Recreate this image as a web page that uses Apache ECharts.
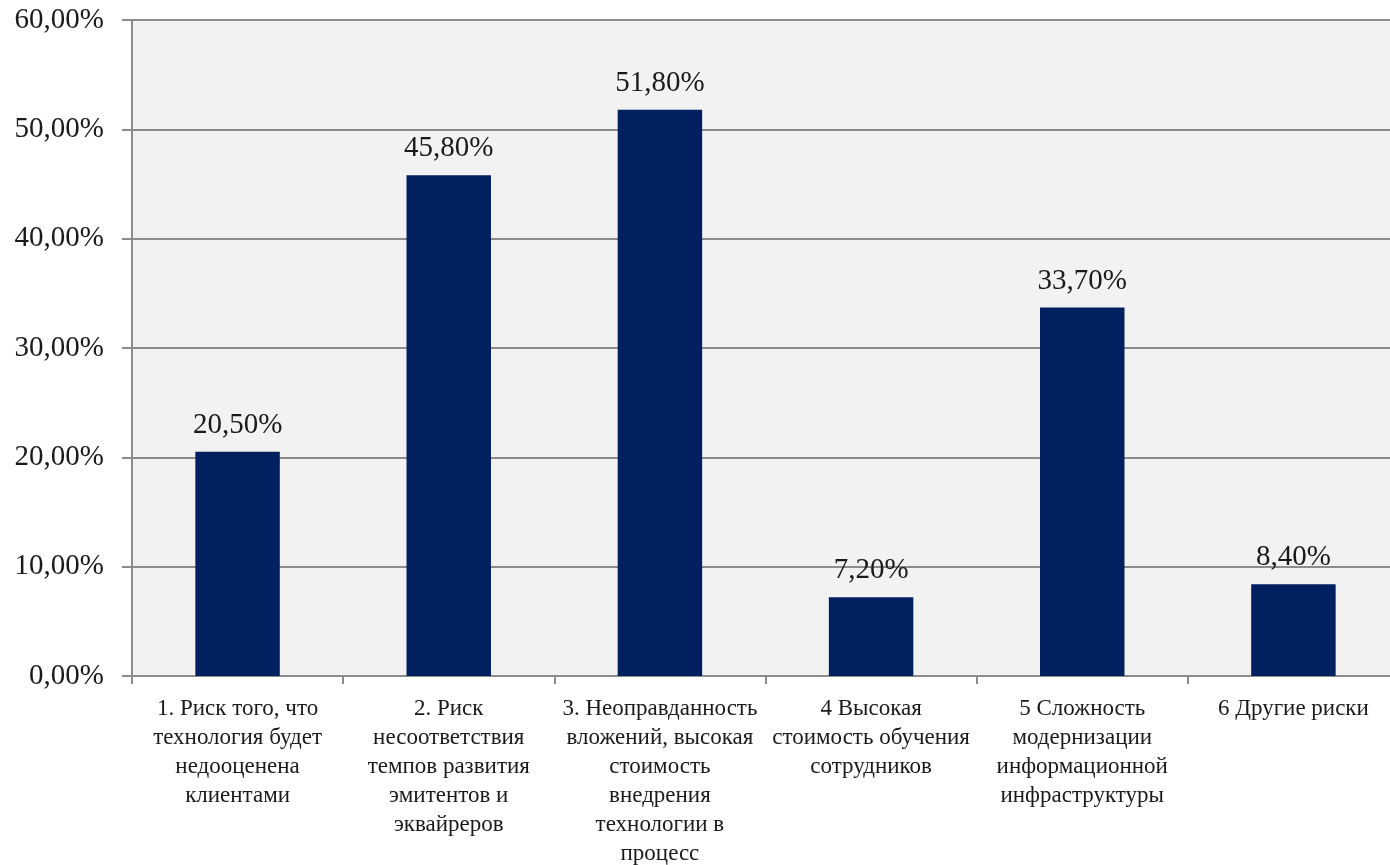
<!DOCTYPE html>
<html>
<head>
<meta charset="utf-8">
<script src="https://cdn.jsdelivr.net/npm/echarts@6/dist/echarts.min.js"></script>
<style>
html,body{margin:0;padding:0;background:#fff;overflow:hidden;}
#c{width:1390px;height:865px;}
</style>
</head>
<body>
<div id="c"></div>
<script>
var categories = [
  "1. Риск того, что\nтехнология будет\nнедооценена\nклиентами",
  "2. Риск\nнесоответствия\nтемпов развития\nэмитентов и\nэквайреров",
  "3. Неоправданность\nвложений, высокая\nстоимость\nвнедрения\nтехнологии в\nпроцесс",
  "4 Высокая\nстоимость обучения\nсотрудников",
  "5 Сложность\nмодернизации\nинформационной\nинфраструктуры",
  "6 Другие риски"
];
var values = [20.5, 45.8, 51.8, 7.2, 33.7, 8.4];
var yTicks = { min: 0, max: 60, interval: 10 };

function pct(v){ return v.toFixed(2).replace('.', ',') + '%'; }

var FONT = '"Liberation Serif", "Times New Roman", serif';
var chart = echarts.init(document.getElementById('c'), null, {renderer:'canvas'});
chart.setOption({
  animation: false,
  backgroundColor: '#ffffff',
  textStyle: { fontFamily: FONT },
  grid: {
    left: 132, top: 20, width: 1267, height: 656,
    outerBoundsMode: 'none', containLabel: false,
    show: true, backgroundColor: '#f2f2f2', borderWidth: 0
  },
  xAxis: {
    type: 'category',
    data: categories,
    axisLine: { show: true, lineStyle: { color: '#8c8c8c', width: 2 } },
    axisTick: { show: true, alignWithLabel: false, length: 8, lineStyle: { color: '#8c8c8c', width: 2 } },
    axisLabel: {
      interval: 0, margin: 18, color: '#1a1a1a',
      fontSize: 23, lineHeight: 29, fontFamily: FONT
    },
    splitLine: { show: false }
  },
  yAxis: {
    type: 'value',
    min: yTicks.min, max: yTicks.max, interval: yTicks.interval,
    axisLine: { show: true, lineStyle: { color: '#8c8c8c', width: 2 } },
    axisTick: { show: true, length: 10, lineStyle: { color: '#8c8c8c', width: 2 } },
    axisLabel: {
      margin: 28, color: '#1a1a1a', fontSize: 29, fontFamily: FONT,
      formatter: function(v){ return pct(v); }
    },
    splitLine: { show: true, lineStyle: { color: '#8c8c8c', width: 2 } }
  },
  series: [{
    type: 'bar',
    data: values,
    barWidth: '40%',
    itemStyle: { color: '#002060' },
    label: {
      show: true, position: 'top', distance: 12,
      color: '#1a1a1a', fontSize: 29, fontFamily: FONT,
      formatter: function(p){ return pct(p.value); }
    }
  }]
});
</script>
</body>
</html>
